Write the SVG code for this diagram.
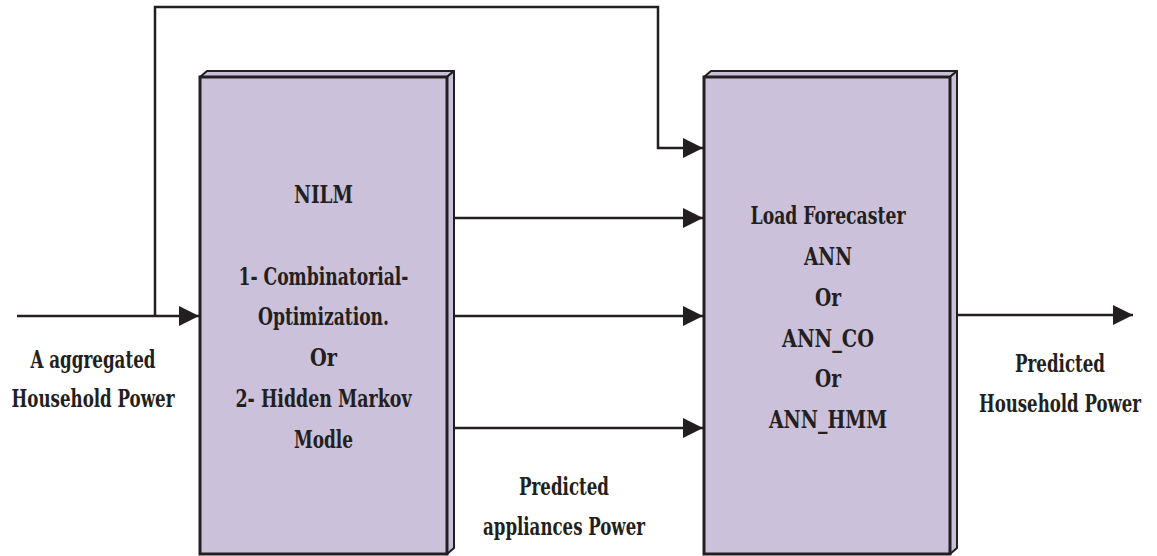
<svg xmlns="http://www.w3.org/2000/svg" width="1157" height="556" viewBox="0 0 1157 556">
<style>
.front{fill:#cbc1da;stroke:#231f20;stroke-width:3;stroke-linejoin:miter}
.side{fill:#c9bfd8;stroke:#231f20;stroke-width:2;stroke-linejoin:round}
.conn{fill:none;stroke:#231f20;stroke-width:2.5;stroke-linejoin:miter}
.t{font-family:'DejaVu Serif Condensed','Liberation Serif',serif;font-weight:700;font-size:25px;fill:#231f20;text-anchor:middle}
</style>
<defs>
<marker id="ah" markerUnits="userSpaceOnUse" markerWidth="20" markerHeight="20" refX="20" refY="10" orient="auto" viewBox="0 0 20 20">
<path d="M0,0 L20,10 L0,20 Z" fill="#231f20"/>
</marker>
</defs>
<rect width="1157" height="556" fill="#ffffff"/>
<g id="connectors">
<polyline class="conn" points="17,316 199,316" marker-end="url(#ah)"/>
<polyline class="conn" points="155,316 155,7 658,7 658,148 703,148" marker-end="url(#ah)"/>
<polyline class="conn" points="454,218 703,218" marker-end="url(#ah)"/>
<polyline class="conn" points="454,316 703,316" marker-end="url(#ah)"/>
<polyline class="conn" points="454,428 703,428" marker-end="url(#ah)"/>
<polyline class="conn" points="957,315 1133,315" marker-end="url(#ah)"/>
</g>
<g id="nilm">
<polygon class="side" points="200,77 207,71 454,71 447,77"/>
<polygon class="side" points="447,77 454,71 454,548 447,554"/>
<rect class="front" x="200" y="77" width="247" height="477"/>
<g class="t">
<text x="323.5" y="203" textLength="59" lengthAdjust="spacingAndGlyphs">NILM</text>
<text x="323.5" y="285" textLength="170" lengthAdjust="spacingAndGlyphs">1- Combinatorial-</text>
<text x="323.5" y="325" textLength="131" lengthAdjust="spacingAndGlyphs">Optimization.</text>
<text x="323.5" y="366" textLength="27" lengthAdjust="spacingAndGlyphs">Or</text>
<text x="323.5" y="407" textLength="176" lengthAdjust="spacingAndGlyphs">2- Hidden Markov</text>
<text x="323.5" y="448" textLength="59" lengthAdjust="spacingAndGlyphs">Modle</text>
</g>
</g>
<g id="forecaster">
<polygon class="side" points="704,77 711,71 957,71 950,77"/>
<polygon class="side" points="950,77 957,71 957,548 950,554"/>
<rect class="front" x="704" y="77" width="246" height="477"/>
<g class="t">
<text x="828" y="224" textLength="155" lengthAdjust="spacingAndGlyphs">Load Forecaster</text>
<text x="828" y="265" textLength="48" lengthAdjust="spacingAndGlyphs">ANN</text>
<text x="828" y="306" textLength="26" lengthAdjust="spacingAndGlyphs">Or</text>
<text x="828" y="347" textLength="92" lengthAdjust="spacingAndGlyphs">ANN_CO</text>
<text x="828" y="387" textLength="26" lengthAdjust="spacingAndGlyphs">Or</text>
<text x="828" y="428" textLength="118" lengthAdjust="spacingAndGlyphs">ANN_HMM</text>
</g>
</g>
<g id="label-input" class="t">
<text x="93" y="368" textLength="125" lengthAdjust="spacingAndGlyphs">A aggregated</text>
<text x="93" y="407" textLength="163" lengthAdjust="spacingAndGlyphs">Household Power</text>
</g>
<g id="label-appliances" class="t">
<text x="564" y="495" textLength="90" lengthAdjust="spacingAndGlyphs">Predicted</text>
<text x="564" y="535" textLength="162" lengthAdjust="spacingAndGlyphs">appliances Power</text>
</g>
<g id="label-output" class="t">
<text x="1060" y="372" textLength="90" lengthAdjust="spacingAndGlyphs">Predicted</text>
<text x="1060" y="412" textLength="162" lengthAdjust="spacingAndGlyphs">Household Power</text>
</g>
</svg>
